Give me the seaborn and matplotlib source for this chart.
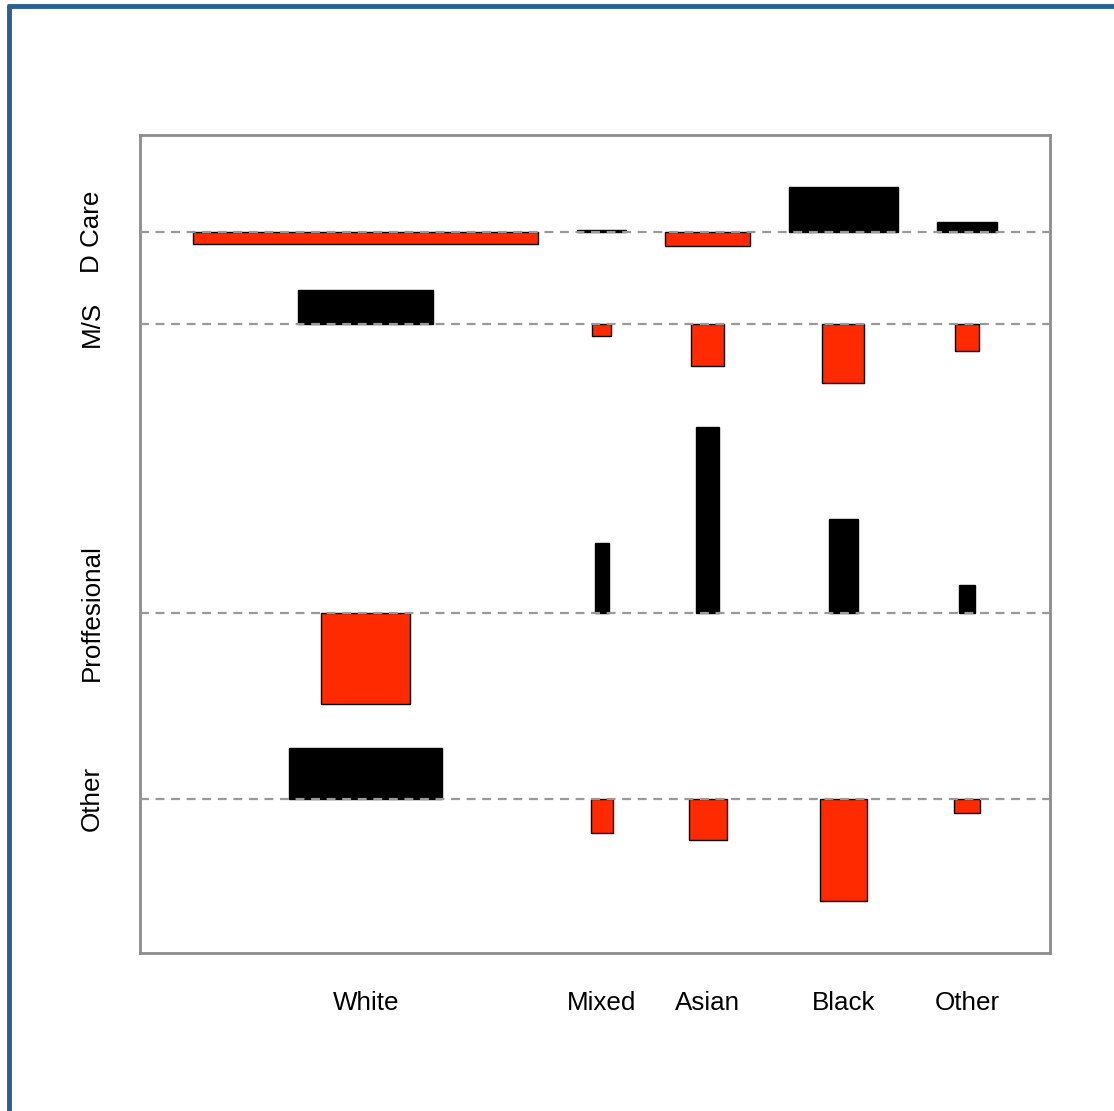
import numpy as np
import matplotlib
matplotlib.use("Agg")
import matplotlib.pyplot as plt
import seaborn as sns

# association plot: bar width ~ sqrt(expected), height ~ residual (pos = black, neg = red)
ethnicity = ["White", "Mixed", "Asian", "Black", "Other"]
roles = ["D Care", "M/S", "Proffesional", "Other"]

dcare_w = [345, 49, 85, 109, 60]
dcare_h = [-12, 2, -14, 45, 10]
ms_w = [135, 19, 33, 42, 24]
ms_h = [34, -12, -42, -59, -27]
prof_w = [89, 14, 23, 29, 16]
prof_h = [-91, 70, 186, 94, 28]
other_w = [153, 22, 38, 47, 26]
other_h = [51, -34, -41, -102, -14]

widths = np.array([dcare_w, ms_w, prof_w, other_w], dtype=float)
heights = np.array([dcare_h, ms_h, prof_h, other_h], dtype=float)

sns.set_style("white")
plt.rcParams["font.family"] = ["Liberation Sans", "DejaVu Sans"]
plt.rcParams["text.color"] = "black"

space = 0.3
col_w = widths.max(axis=0)
row_h = heights.clip(min=0).max(axis=1) - heights.clip(max=0).min(axis=1)
dx = space * col_w.mean()
dy = space * row_h.mean()

# column centres
x_edges = np.cumsum(col_w + dx)
x_cent = x_edges - dx / 2 - col_w / 2
xmax = x_edges[-1]

# row baselines, built from the bottom row up
base = np.zeros(len(roles))
y = 0
for i in range(len(roles) - 1, -1, -1):
    neg = -heights[i].clip(max=0).min()
    pos = heights[i].clip(min=0).max()
    base[i] = y + dy / 2 + neg
    y += neg + pos + dy
ymax = y

fig = plt.figure(figsize=(11.14, 11.11), dpi=100)
ax = fig.add_axes([140 / 1114, 1 - 953 / 1111, 910 / 1114, 818 / 1111])

for i in range(len(roles)):
    for j in range(len(ethnicity)):
        h = heights[i, j]
        ax.bar(x_cent[j], h, width=widths[i, j], bottom=base[i],
               color="black" if h > 0 else "#ff2a00",
               edgecolor="black", linewidth=1.0, zorder=2)
    ax.axhline(base[i], color="#999999", lw=1.6, ls=(0, (4, 3)), zorder=3)

ax.set_xlim(-0.04 * xmax, 1.04 * xmax)
ax.set_ylim(-0.04 * ymax, 1.04 * ymax)
ax.set_xticks([])
ax.set_yticks([])
for s in ax.spines.values():
    s.set_color("#8c8c8c")
    s.set_linewidth(2)

for j, name in enumerate(ethnicity):
    ax.annotate(name, (x_cent[j], 0), xycoords=("data", "axes fraction"),
                xytext=(0, -50), textcoords="offset pixels",
                ha="center", va="center", fontsize=18.7, color="black")
for i, name in enumerate(roles):
    ax.annotate(name, (0, base[i]), xycoords=("axes fraction", "data"),
                xytext=(-48, 0), textcoords="offset pixels",
                ha="center", va="center", rotation=90, fontsize=18.7,
                color="black")

# blue frame on the left and top edges
fig.add_artist(plt.Line2D([9 / 1114, 9 / 1114], [0, 1 - 5 / 1111],
                          color="#2b5e93", lw=3.5, solid_capstyle="butt"))
fig.add_artist(plt.Line2D([7 / 1114, 1], [1 - 6 / 1111, 1 - 6 / 1111],
                          color="#2b5e93", lw=3.5, solid_capstyle="butt"))

fig.savefig("out.png", dpi=100)
